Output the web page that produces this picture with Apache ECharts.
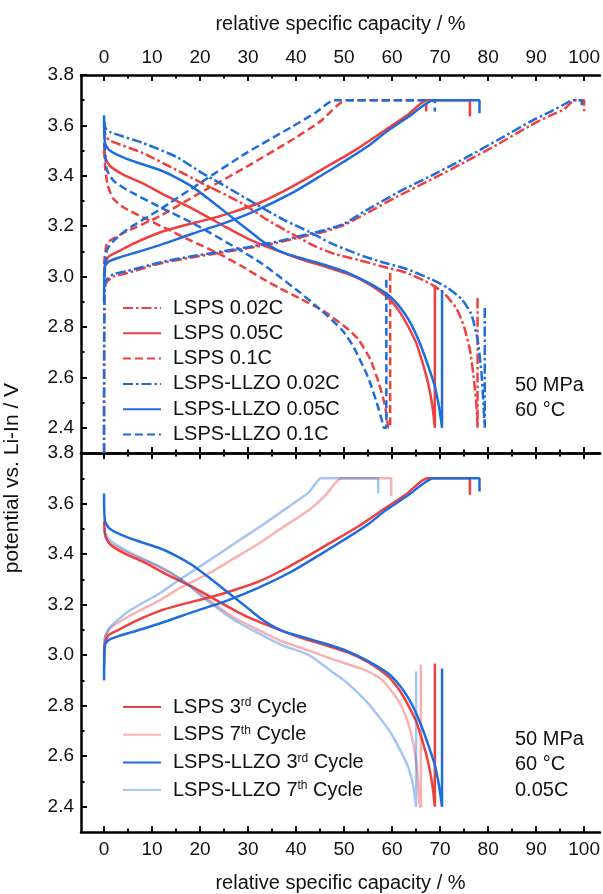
<!DOCTYPE html>
<html>
<head>
<meta charset="utf-8">
<script src="https://cdn.jsdelivr.net/npm/echarts@6/dist/echarts.min.js"></script>
<style>html,body{margin:0;padding:0;background:#fff}#c{width:603px;height:894px}</style>
</head>
<body>
<div id="c"></div>
<script>
// ---------- tick labels ----------
const xMajorTicks = [0,10,20,30,40,50,60,70,80,90,100];
const xMinorTicks = [5,15,25,35,45,55,65,75,85,95];
const yMajorTicks = [2.4,2.6,2.8,3.0,3.2,3.4,3.6,3.8];
const yMinorTicks = [2.5,2.7,2.9,3.1,3.3,3.5,3.7];

// ---------- top panel: rate comparison ----------
const lsps002Charge = [[0,2.3],[0.1,2.95],[0.6,2.98],[2,3.0],[4.8,3.014],[11.6,3.052],[18,3.075],[24,3.094],[30,3.113],[35.8,3.133],[40.6,3.155],[46.2,3.18],[50,3.205],[54.5,3.25],[61.3,3.32],[68.1,3.385],[75.2,3.455],[82,3.525],[88.8,3.6],[93,3.64],[95.9,3.665],[98,3.7],[100,3.7],[100,3.65]];
const lsps002Discharge = [[0,3.6],[0.3,3.56],[1.2,3.54],[8.1,3.49],[15.1,3.423],[20.5,3.37],[28.8,3.29],[34,3.225],[39.1,3.17],[44,3.12],[48,3.09],[53,3.066],[58,3.04],[63,3.015],[68.1,2.97],[71,2.93],[73.5,2.87],[75,2.8],[76.3,2.7],[77.1,2.58],[77.6,2.48],[77.8,2.4],[77.8,2.915]];
const lsps005Charge = [[0,3.0],[0.2,3.05],[1,3.08],[3,3.1],[6,3.13],[11.6,3.175],[16,3.2],[21.9,3.228],[27,3.257],[32.3,3.292],[37,3.335],[42.7,3.395],[47,3.443],[53,3.51],[58.6,3.582],[63,3.638],[67.3,3.7],[76.2,3.7],[76.2,3.635]];
const lsps005Discharge = [[0,3.53],[0.3,3.47],[1.2,3.44],[4,3.405],[8.1,3.37],[13,3.32],[18.4,3.27],[25.5,3.195],[30,3.15],[35.8,3.105],[40.6,3.072],[46,3.04],[50.9,3.01],[55,2.972],[59.2,2.915],[61.5,2.862],[63.4,2.8],[65,2.738],[66,2.68],[67.2,2.6],[67.9,2.54],[68.5,2.47],[68.9,2.4],[68.9,2.967]];
const lsps01Charge = [[0,3.05],[0.6,3.133],[2,3.152],[4.8,3.18],[11.6,3.24],[19.9,3.331],[29.6,3.435],[39.1,3.542],[45,3.615],[50.5,3.7],[67.1,3.7],[67.1,3.645]];
const lsps01Discharge = [[0,3.5],[0.3,3.42],[0.8,3.36],[1.9,3.31],[4,3.275],[8,3.236],[13,3.19],[18.4,3.14],[24,3.09],[28.8,3.04],[33,2.992],[36.5,2.955],[40.6,2.915],[46,2.86],[50.9,2.79],[53,2.75],[55.5,2.67],[57.2,2.58],[58.5,2.49],[59.3,2.4],[59.6,2.4],[59.6,3.014]];
const llzo002Charge = [[0,2.3],[0.1,2.96],[0.6,2.99],[2,3.01],[4.8,3.022],[11.6,3.056],[18,3.08],[24,3.098],[30,3.117],[35.8,3.138],[40.6,3.16],[46.2,3.186],[50,3.21],[54.5,3.262],[61.3,3.335],[68.1,3.4],[75.2,3.47],[82,3.542],[88.8,3.615],[93,3.655],[95.5,3.68],[97.7,3.7],[99.5,3.7],[99.5,3.68]];
const llzo002Discharge = [[0,3.62],[0.3,3.59],[1.2,3.574],[8.1,3.53],[15.1,3.475],[20.5,3.41],[25.5,3.356],[33.7,3.265],[38,3.22],[42.7,3.178],[47,3.135],[53,3.088],[58,3.057],[63,3.03],[68.1,2.99],[71.6,2.955],[74.5,2.91],[76.5,2.85],[77.8,2.75],[78.6,2.62],[79,2.5],[79.3,2.4],[79.3,2.88]];
const llzo005Charge = [[0,2.9],[0.2,3.04],[1,3.06],[3,3.075],[6,3.092],[11.6,3.125],[18.4,3.17],[25.5,3.215],[32,3.265],[39,3.33],[45,3.398],[50.3,3.46],[55,3.518],[58.6,3.572],[63.5,3.635],[68.6,3.7],[78.2,3.7],[78.2,3.648]];
const llzo005Discharge = [[0,3.64],[0.2,3.53],[1.2,3.5],[5,3.465],[11.6,3.423],[15,3.393],[18.4,3.356],[22,3.305],[26,3.245],[30,3.185],[33,3.14],[35.8,3.108],[38,3.09],[40.6,3.076],[46,3.046],[50.9,3.014],[55,2.976],[59.2,2.927],[61.5,2.882],[63.4,2.83],[65,2.77],[66.5,2.7],[67.8,2.63],[68.9,2.565],[69.8,2.48],[70.4,2.4],[70.4,2.947]];
const llzo01Charge = [[0,3.0],[0.6,3.105],[2,3.142],[4.8,3.187],[11.6,3.266],[19.9,3.37],[29.6,3.49],[39.1,3.594],[44,3.65],[48,3.7],[68.9,3.7],[68.9,3.655]];
const llzo01Discharge = [[0,3.58],[0.3,3.47],[0.6,3.423],[2,3.38],[4.8,3.344],[11.6,3.276],[18.4,3.213],[28.8,3.1],[33,3.05],[36.5,3.0],[40.6,2.94],[45,2.87],[49.5,2.79],[52,2.72],[55,2.6],[56.8,2.5],[58,2.42],[58.3,2.4],[58.8,2.4],[58.8,3.0]];

// ---------- bottom panel: cycle comparison (3rd cycle = 0.05C curves) ----------
const lsps7Charge = [[0,2.95],[0.2,3.07],[1.2,3.105],[5,3.152],[11.6,3.217],[16,3.268],[21.9,3.324],[27,3.382],[32.3,3.443],[37,3.503],[42.7,3.574],[46,3.63],[49.5,3.7],[59.8,3.7],[59.8,3.63]];
const lsps7Discharge = [[0,3.5],[0.3,3.47],[1.2,3.443],[5,3.405],[11.6,3.348],[16,3.3],[21.9,3.217],[27,3.15],[32.3,3.098],[37,3.055],[42.7,3.018],[47.4,2.985],[54.5,2.94],[58,2.9],[61.3,2.82],[63.2,2.74],[64.4,2.65],[65.2,2.55],[65.8,2.4],[66,2.4],[66,2.963]];
const llzo7Charge = [[0,2.95],[0.2,3.07],[1.2,3.11],[5,3.172],[11.6,3.245],[16,3.302],[21.9,3.375],[27,3.44],[32.3,3.506],[37,3.568],[42.7,3.645],[45.2,3.7],[57.1,3.7],[57.1,3.64]];
const llzo7Discharge = [[0,3.5],[0.3,3.48],[1.2,3.455],[5,3.41],[11.6,3.35],[16,3.3],[21.9,3.21],[27,3.14],[32.3,3.085],[37,3.04],[42.7,3.0],[47.4,2.935],[50,2.9],[54.5,2.82],[57.5,2.75],[59.8,2.69],[61.8,2.62],[63.4,2.555],[64.4,2.48],[65,2.4],[65,2.935]];

const topNames = ['LSPS 0.02C','LSPS 0.05C','LSPS 0.1C','LSPS-LLZO 0.02C','LSPS-LLZO 0.05C','LSPS-LLZO 0.1C'];
const bottomNames = ['LSPS 3rd Cycle','LSPS 7th Cycle','LSPS-LLZO 3rd Cycle','LSPS-LLZO 7th Cycle'];
const topNotes = ['50 MPa','60 °C'];
const bottomNotes = ['50 MPa','60 °C','0.05C'];
const axisTitleX = 'relative specific capacity / %';
const axisTitleY = 'potential vs. Li-In / V';

// ---------- styling ----------
const FONT = 'Liberation Sans, Arial, Helvetica, sans-serif';
const RED = '#ef3f3f', BLUE = '#1e6ddf';
const DASH = [8,4], DASHDOT = [10,3,2.5,3];
const X_MIN = -4.8, X_MAX = 103.3, Y_MIN = 2.3, Y_MAX = 3.8;
const LW = 2.5;
const TXT = 20, TICK = 19;

function xAx(grid, pos, major, showLabel, name) {
  return {
    type:'value', gridIndex:grid, position:pos, min:X_MIN, max:X_MAX,
    axisLine:{show:major, onZero:false, lineStyle:{color:'#000', width:2.5}},
    axisTick:{show:true, inside:true, length: major?6:3.5, customValues: major?xMajorTicks:xMinorTicks, lineStyle:{color:'#000', width:2}},
    axisLabel:{show:showLabel, customValues:xMajorTicks, margin:8, color:'#111', fontFamily:FONT, fontSize:TICK},
    splitLine:{show:false},
    name: name || '', nameLocation:'middle', nameGap:41,
    nameTextStyle:{color:'#111', fontFamily:FONT, fontSize:TXT}
  };
}
function yAx(grid, major) {
  return {
    type:'value', gridIndex:grid, position:'left', min:Y_MIN, max:Y_MAX,
    axisLine:{show:major, onZero:false, lineStyle:{color:'#000', width:2.5}},
    axisTick:{show:true, inside:true, length: major?6:3.5, customValues: major?yMajorTicks:yMinorTicks, lineStyle:{color:'#000', width:2}},
    axisLabel:{show:major, customValues:yMajorTicks, margin:7, color:'#111', fontFamily:FONT, fontSize:TICK,
      formatter: v => v.toFixed(1)},
    splitLine:{show:false}
  };
}
function ser(name, data, color, type, opacity, bottom) {
  return {
    type:'line', name, data, symbol:'none', animation:false, clip:true, smooth:0.2,
    xAxisIndex: bottom?4:0, yAxisIndex: bottom?2:0,
    lineStyle:{color, width:LW, type, opacity},
    itemStyle:{color, opacity}
  };
}

const series = [
  ser(topNames[0], lsps002Charge, RED, DASHDOT, 1, false),
  ser(topNames[0], lsps002Discharge, RED, DASHDOT, 1, false),
  ser(topNames[1], lsps005Charge, RED, 'solid', 1, false),
  ser(topNames[1], lsps005Discharge, RED, 'solid', 1, false),
  ser(topNames[2], lsps01Charge, RED, DASH, 1, false),
  ser(topNames[2], lsps01Discharge, RED, DASH, 1, false),
  ser(topNames[3], llzo002Charge, BLUE, DASHDOT, 1, false),
  ser(topNames[3], llzo002Discharge, BLUE, DASHDOT, 1, false),
  ser(topNames[4], llzo005Charge, BLUE, 'solid', 1, false),
  ser(topNames[4], llzo005Discharge, BLUE, 'solid', 1, false),
  ser(topNames[5], llzo01Charge, BLUE, DASH, 1, false),
  ser(topNames[5], llzo01Discharge, BLUE, DASH, 1, false),

  ser(bottomNames[0], lsps005Charge, RED, 'solid', 1, true),
  ser(bottomNames[0], lsps005Discharge, RED, 'solid', 1, true),
  ser(bottomNames[1], lsps7Charge, RED, 'solid', 0.4, true),
  ser(bottomNames[1], lsps7Discharge, RED, 'solid', 0.4, true),
  ser(bottomNames[2], llzo005Charge, BLUE, 'solid', 1, true),
  ser(bottomNames[2], llzo005Discharge, BLUE, 'solid', 1, true),
  ser(bottomNames[3], llzo7Charge, BLUE, 'solid', 0.4, true),
  ser(bottomNames[3], llzo7Discharge, BLUE, 'solid', 0.4, true)
];

function supFmt(name) {
  const m = name.match(/^(.*\d)(rd|th)( Cycle)$/);
  if (!m) return '{n|' + name + '}';
  return '{n|' + m[1] + '}{s|' + m[2] + '}{n|' + m[3] + '}';
}
const legendText = {
  color:'#111', fontFamily:FONT, fontSize:TXT, lineHeight:20, padding:[0,0,0,7],
  rich:{ n:{fontFamily:FONT, fontSize:TXT, color:'#111', lineHeight:20},
         s:{fontFamily:FONT, fontSize:12, color:'#111', verticalAlign:'top', lineHeight:12, padding:[0,0,8,0]} }
};

const graphics = [
  {type:'text', x:12, y:478, rotation:Math.PI/2, style:{text:axisTitleY, fontFamily:FONT, fontSize:21, fill:'#111', align:'center', verticalAlign:'middle'}}
];
topNotes.forEach((t,i) => graphics.push({type:'text', x:515, y:385 + i*25.3, style:{text:t, fontFamily:FONT, fontSize:TXT, fill:'#111', align:'left', verticalAlign:'middle'}}));
bottomNotes.forEach((t,i) => graphics.push({type:'text', x:515, y:739 + i*25.6, style:{text:t, fontFamily:FONT, fontSize:TXT, fill:'#111', align:'left', verticalAlign:'middle'}}));

const option = {
  backgroundColor:'#fff',
  animation:false,
  grid:[
    {left:81, top:75, right:0, height:378, containLabel:false},
    {left:81, top:453, right:0, height:379, containLabel:false}
  ],
  xAxis:[
    xAx(0,'top',true,true,axisTitleX),
    xAx(0,'top',false,false),
    xAx(0,'bottom',true,false),
    xAx(0,'bottom',false,false),
    xAx(1,'bottom',true,true,axisTitleX),
    xAx(1,'bottom',false,false),
    xAx(1,'top',true,false),
    xAx(1,'top',false,false)
  ],
  yAxis:[ yAx(0,true), yAx(0,false), yAx(1,true), yAx(1,false) ],
  legend:[
    {data:topNames, orient:'vertical', left:122, top:298, padding:0, itemWidth:38, itemHeight:20, itemGap:5.3,
     itemStyle:{opacity:0, borderWidth:0}, textStyle:legendText, formatter:supFmt},
    {data:bottomNames, orient:'vertical', left:122, top:697, padding:0, itemWidth:38, itemHeight:20, itemGap:7.7,
     itemStyle:{opacity:0, borderWidth:0}, textStyle:legendText, formatter:supFmt}
  ],
  graphic: graphics,
  series
};
const chart = echarts.init(document.getElementById('c'), null, {renderer:'canvas'});
chart.setOption(option);
</script>
</body>
</html>
